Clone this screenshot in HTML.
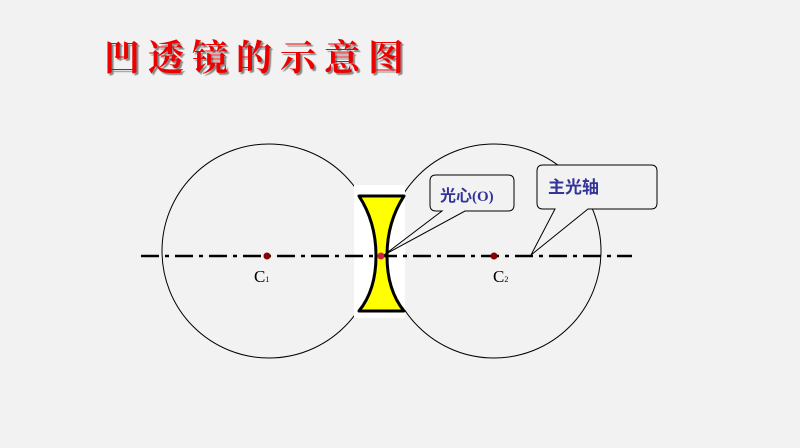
<!DOCTYPE html>
<html><head><meta charset="utf-8"><style>
html,body{margin:0;padding:0;background:#f2f2f2;}
.t{position:absolute;left:104px;top:30px;font-family:"Liberation Serif","Noto Serif CJK SC",serif;font-size:36px;font-weight:bold;color:#ee0000;letter-spacing:8px;text-shadow:2px 2px 1px #888;white-space:nowrap;}
</style></head><body>
<div style="position:relative;width:800px;height:448px;overflow:hidden">
<div class="t">凹透镜的示意图</div>
<svg width="800" height="448" style="position:absolute;left:0;top:0">
<circle cx="269" cy="251" r="107" fill="none" stroke="#000" stroke-width="1"/>
<circle cx="494" cy="251" r="107" fill="none" stroke="#000" stroke-width="1"/>
<rect x="354" y="185" width="51" height="133" fill="#fff"/>
<path d="M359,196 L404,196 Q387,222 387,256 Q387,290 404,311 L359,311 Q376,290 376,256 Q376,222 359,196 Z" fill="#ffff00" stroke="#000" stroke-width="3" stroke-linejoin="round"/>
<line x1="141" y1="256" x2="632" y2="256" stroke="#000" stroke-width="2.5" stroke-dasharray="18,6,4,6"/>
<circle cx="267" cy="256" r="3.5" fill="#8b0000"/>
<circle cx="494" cy="256" r="3.5" fill="#8b0000"/>
<circle cx="381" cy="256" r="3.5" fill="#d02040"/>
<path d="M436,175 H508 Q514,175 514,181 V205 Q514,211 508,211 H465 L384,255 L442,211 H436 Q430,211 430,205 V181 Q430,175 436,175 Z" fill="#f2f2f2" stroke="#000" stroke-width="1"/>
<path d="M543,165 H651 Q657,165 657,171 V203 Q657,209 651,209 H588 L531,255 L555,209 H543 Q537,209 537,203 V171 Q537,165 543,165 Z" fill="#f2f2f2" stroke="#000" stroke-width="1"/>
<text x="440" y="201" font-family="Liberation Sans,Noto Sans CJK SC,sans-serif" font-size="16" font-weight="bold" fill="#333399">光心<tspan font-family="Liberation Serif,serif" font-size="15">(O)</tspan></text>
<text x="548" y="193" font-family="Liberation Sans,Noto Sans CJK SC,sans-serif" font-size="17" font-weight="bold" fill="#333399">主光轴</text>
<text x="254" y="282" font-family="Liberation Serif,serif" font-size="17">C<tspan font-size="8">1</tspan></text>
<text x="493" y="282" font-family="Liberation Serif,serif" font-size="17">C<tspan font-size="8">2</tspan></text>
</svg>
</div>
</body></html>
